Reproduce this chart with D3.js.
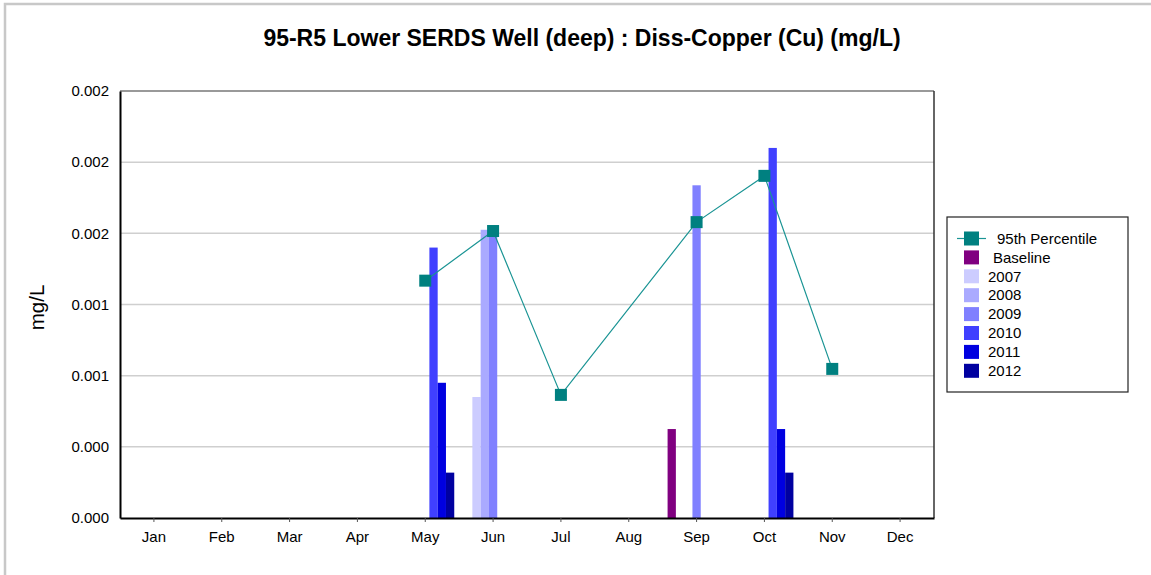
<!DOCTYPE html>
<html>
<head>
<meta charset="utf-8">
<script src="https://cdn.jsdelivr.net/npm/d3@7"></script>
<style>
    body { margin: 0; background: #fff; }
    text { font-family: Arial, "Liberation Sans", sans-serif; fill: #000; }
</style>
</head>
<body>
<div id="chart"></div>
<script>
// data
var months = ["Jan", "Feb", "Mar", "Apr", "May", "Jun", "Jul", "Aug", "Sep", "Oct", "Nov", "Dec"];
var seriesNames = ["Baseline", "2007", "2008", "2009", "2010", "2011", "2012"];
var seriesColors = ["#800080", "#ccccff", "#aaaaff", "#8080ff", "#4040ff", "#0000e0", "#0000a0"];

var baseline = [null, null, null, null, null, null, null, null, 0.0005, null, null, null];
var y2007 = [null, null, null, null, null, 0.00068, null, null, null, null, null, null];
var y2008 = [null, null, null, null, null, 0.00162, null, null, null, null, null, null];
var y2009 = [null, null, null, null, null, 0.00161, null, null, 0.00187, null, null, null];
var y2010 = [null, null, null, null, 0.00152, null, null, null, null, 0.00208, null, null];
var y2011 = [null, null, null, null, 0.00076, null, null, null, null, 0.0005, null, null];
var y2012 = [null, null, null, null, 0.000255, null, null, null, null, 0.000255, null, null];
var pct95 = [null, null, null, null, 0.001334, 0.001613, 0.000692, null, 0.001663, 0.001923, 0.000838, null];

var yTicks = [0, 0.0004, 0.0008, 0.0012, 0.0016, 0.002, 0.0024];

var title = "95-R5 Lower SERDS Well (deep) : Diss-Copper (Cu) (mg/L)";


BarChart = function(_parentElement) {
    this.parentElement = _parentElement;
    this.seriesData = [baseline, y2007, y2008, y2009, y2010, y2011, y2012];
    this.initVis();
};

BarChart.prototype.initVis = function() {
    var vis = this;

    vis.margin = {top: 91, right: 217, bottom: 57, left: 120};
    vis.width = 1151 - vis.margin.left - vis.margin.right;
    vis.height = 575 - vis.margin.top - vis.margin.bottom;

    vis.root = d3.select("#" + vis.parentElement).append("svg")
        .attr("width", 1151)
        .attr("height", 575);

    // outer frame (only top/left visible)
    vis.root.append("rect")
        .attr("x", 5).attr("y", 4)
        .attr("width", 1200).attr("height", 700)
        .attr("fill", "none")
        .attr("stroke", "#c8c8c8")
        .attr("stroke-width", 2.5);

    vis.root.append("text")
        .attr("x", 582)
        .attr("y", 46)
        .attr("text-anchor", "middle")
        .style("font-size", "23px")
        .style("font-weight", "bold")
        .text(title);

    vis.svg = vis.root.append("g")
        .attr("transform", "translate(" + vis.margin.left + "," + vis.margin.top + ")");

    // Scales
    vis.x = d3.scaleBand()
        .domain(months)
        .range([0, vis.width]);

    vis.xInner = d3.scaleBand()
        .domain(seriesNames)
        .range([vis.x.bandwidth() / 2 - 29, vis.x.bandwidth() / 2 + 29]);

    vis.y = d3.scaleLinear()
        .domain([0, 0.0024])
        .range([vis.height, 0]);

    // gridlines
    vis.svg.append("g")
        .selectAll("line")
        .data(yTicks.slice(1, -1))
        .enter()
        .append("line")
        .attr("x1", 0).attr("x2", vis.width)
        .attr("y1", d => vis.y(d)).attr("y2", d => vis.y(d))
        .attr("stroke", "#cfcfcf")
        .attr("stroke-width", 1.5);

    // frame of the plot area
    vis.svg.append("line")
        .attr("x1", 0).attr("x2", vis.width)
        .attr("y1", 0).attr("y2", 0)
        .attr("stroke", "#999").attr("stroke-width", 2);
    vis.svg.append("line")
        .attr("x1", vis.width).attr("x2", vis.width)
        .attr("y1", 0).attr("y2", vis.height)
        .attr("stroke", "#333").attr("stroke-width", 1.5);

    // bars
    vis.seriesData.forEach(function(values, i) {
        var rows = values.map(function(v, j) { return {month: months[j], value: v}; })
            .filter(d => d.value !== null);
        vis.svg.append("g")
            .selectAll("rect")
            .data(rows)
            .enter()
            .append("rect")
            .attr("x", d => vis.x(d.month) + vis.xInner(seriesNames[i]))
            .attr("width", vis.xInner.bandwidth())
            .attr("y", d => vis.y(d.value))
            .attr("height", d => vis.height - vis.y(d.value))
            .attr("fill", seriesColors[i]);
    });

    // 95th percentile line
    var pts = pct95.map(function(v, j) { return {month: months[j], value: v}; })
        .filter(d => d.value !== null);

    vis.line = d3.line()
        .x(d => vis.x(d.month) + vis.x.bandwidth() / 2)
        .y(d => vis.y(d.value));

    vis.svg.append("path")
        .datum(pts)
        .attr("d", vis.line)
        .attr("fill", "none")
        .attr("stroke", "#1a9494")
        .attr("stroke-width", 1.2);

    vis.svg.selectAll(".point")
        .data(pts)
        .enter()
        .append("rect")
        .attr("class", "point")
        .attr("x", d => vis.x(d.month) + vis.x.bandwidth() / 2 - 6)
        .attr("y", d => vis.y(d.value) - 6)
        .attr("width", 12).attr("height", 12)
        .attr("fill", "#008080");

    // axes
    vis.xAxis = d3.axisBottom(vis.x).tickSizeInner(4).tickSizeOuter(0).tickPadding(9);
    vis.yAxis = d3.axisLeft(vis.y).tickValues(yTicks).tickFormat(d3.format(".3f")).tickSize(0).tickPadding(11);

    var xg = vis.svg.append("g")
        .attr("transform", "translate(0," + vis.height + ")")
        .call(vis.xAxis);
    xg.select(".domain").attr("stroke", "#000").attr("stroke-width", 2);
    xg.selectAll(".tick line").attr("stroke", "#555");
    xg.selectAll("text").style("font-size", "15px").attr("fill", "#000");

    var yg = vis.svg.append("g").call(vis.yAxis);
    yg.select(".domain").attr("stroke", "#000").attr("stroke-width", 2);
    yg.selectAll("text").style("font-size", "15px").attr("fill", "#000");

    vis.svg.append("text")
        .attr("transform", "translate(-83," + (vis.height / 2 + 3) + ") rotate(-90)")
        .attr("text-anchor", "middle")
        .attr("dy", "0.35em")
        .style("font-size", "20.5px")
        .text("mg/L");

    vis.drawLegend();
};

BarChart.prototype.drawLegend = function() {
    var vis = this;

    var lg = vis.root.append("g").attr("transform", "translate(947,217)");
    lg.append("rect")
        .attr("width", 181).attr("height", 175)
        .attr("fill", "#fff")
        .attr("stroke", "#222")
        .attr("stroke-width", 1.2);

    var rowY = function(i) { return 21.5 + i * 18.9; };

    // 95th percentile entry
    lg.append("line")
        .attr("x1", 10).attr("x2", 39)
        .attr("y1", rowY(0)).attr("y2", rowY(0))
        .attr("stroke", "#1a9494").attr("stroke-width", 1.2);
    lg.append("rect")
        .attr("x", 17).attr("y", rowY(0) - 7)
        .attr("width", 15).attr("height", 14)
        .attr("fill", "#008080");
    lg.append("text")
        .attr("x", 50).attr("y", rowY(0))
        .attr("dy", "0.35em")
        .style("font-size", "15px")
        .text("95th Percentile");

    seriesNames.forEach(function(name, i) {
        lg.append("rect")
            .attr("x", 17).attr("y", rowY(i + 1) - 7)
            .attr("width", 15).attr("height", 14)
            .attr("fill", seriesColors[i]);
        lg.append("text")
            .attr("x", i === 0 ? 46 : 41).attr("y", rowY(i + 1))
            .attr("dy", "0.35em")
            .style("font-size", "15px")
            .text(name);
    });
};

new BarChart("chart");
</script>
</body>
</html>
